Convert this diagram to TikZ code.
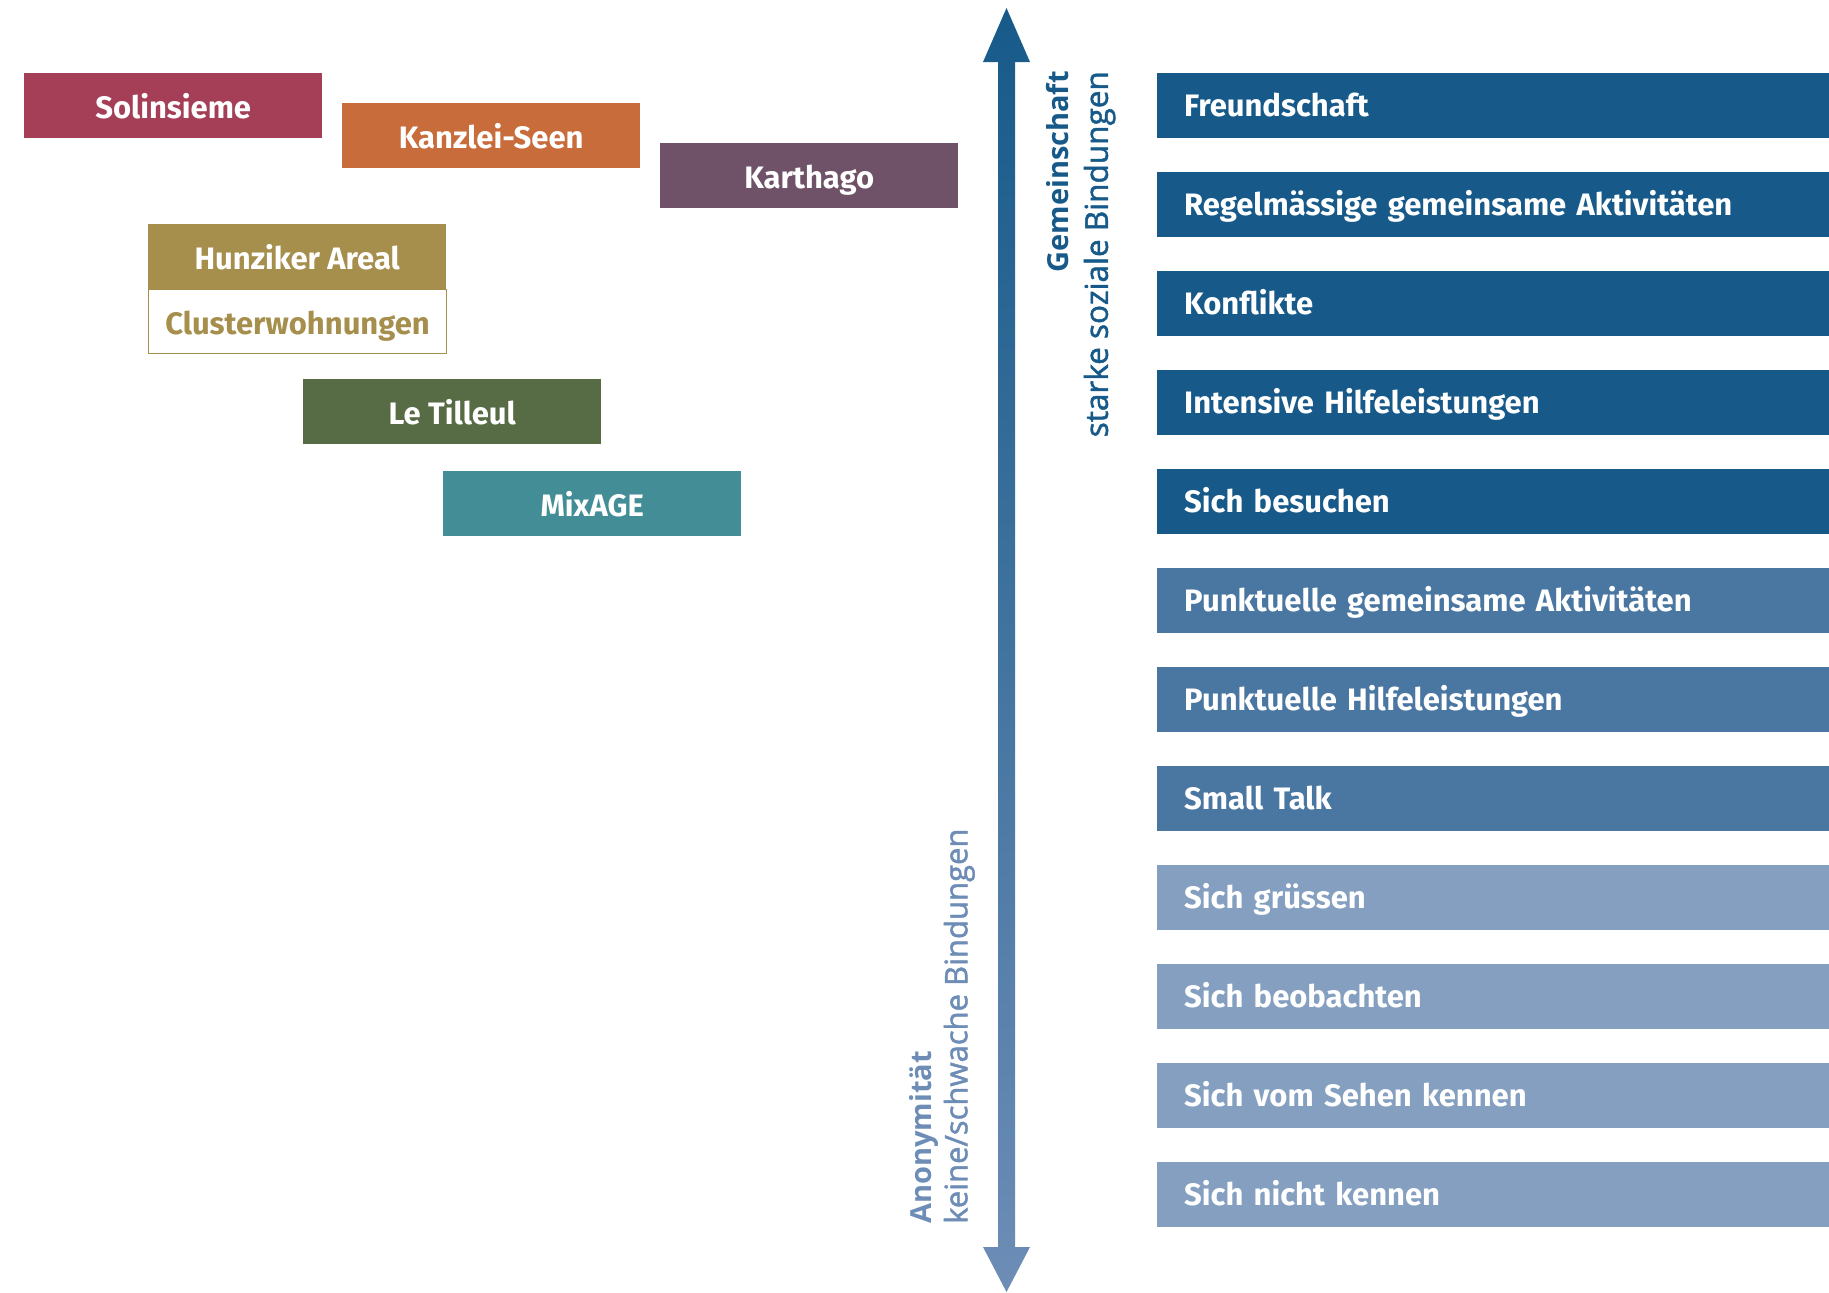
\documentclass[tikz,border=0pt]{standalone}
\usepackage{fontspec}
\setmainfont{Fira Sans}
\newfontfamily\axisfont{Open Sans}
\newfontfamily\axismed[FakeBold=1.5]{Open Sans}
\usetikzlibrary{calc}
\definecolor{barDark}{HTML}{175A89}
\definecolor{barMid}{HTML}{4A77A2}
\definecolor{barLight}{HTML}{849FBF}
\definecolor{axisTop}{HTML}{175A89}
\definecolor{axisBot}{HTML}{6D8DB6}
\definecolor{solinsieme}{HTML}{A43F57}
\definecolor{kanzlei}{HTML}{C76C3A}
\definecolor{karthago}{HTML}{6F5268}
\definecolor{hunziker}{HTML}{A68F4D}
\definecolor{tilleul}{HTML}{576B45}
\definecolor{mixage}{HTML}{438D97}
\tikzset{
  bar/.style={anchor=north west, minimum height=65pt, text width=618pt,
    inner xsep=27pt, inner ysep=0pt, align=left, text=white,
    text height=21pt, text depth=0pt,
    font=\fontsize{31}{36}\selectfont\bfseries},
  house/.style={anchor=north west, minimum width=298pt, minimum height=65pt,
    inner sep=0pt, text=white, text height=26pt, text depth=0pt,
    font=\fontsize{31}{36}\selectfont\bfseries},
  axislabel/.style={rotate=90, inner sep=0pt}
}
\begin{document}
\begin{tikzpicture}[x=1pt,y=-1pt]
\useasboundingbox (0,0) rectangle (1829,1293);
% projects
\node[house, fill=solinsieme] (sol) at (24,73) {Solinsieme};
\node[house, fill=kanzlei] (kan) at (342,103) {Kanzlei-Seen};
\node[house, fill=karthago] (kar) at (660,143) {Karthago};
\node[house, fill=hunziker] (hun) at (148,224) {Hunziker Areal};
\node[house, fill=white, draw=hunziker, line width=1pt, text=hunziker,
  minimum height=64pt, text height=25pt] (clu) at (148,289) {Clusterwohnungen};
\node[house, fill=tilleul] (til) at (303,379) {Le Tilleul};
\node[house, fill=mixage] (mix) at (443,471) {MixAGE};
% axis
\coordinate (up) at (1006.5,8);
\coordinate (down) at (1006.5,1292);
\shade[top color=axisTop, bottom color=axisBot]
  (up) -- ($(up)+(23.5,54)$) -- ($(up)+(8.5,54)$) -- ($(down)+(8.5,-45)$)
  -- ($(down)+(23.5,-45)$) -- (down) -- ($(down)+(-23.5,-45)$)
  -- ($(down)+(-8.5,-45)$) -- ($(up)+(-8.5,54)$) -- ($(up)+(-23.5,54)$) -- cycle;
\node[axislabel, anchor=east, align=right, text=axisTop,
  font=\axisfont\fontsize{29}{39}\selectfont] (strong) at (1081,71)
  {\bfseries Gemeinschaft\\
   \axismed\fontsize{31.5}{39}\selectfont starke soziale Bindungen};
\node[axislabel, anchor=west, align=left, text=axisBot,
  font=\axisfont\fontsize{29}{36}\selectfont] (weak) at (942,1224)
  {\bfseries Anonymität\\
   \axismed\fontsize{31}{36}\selectfont keine/schwache Bindungen};
% interactions
\node[bar, fill=barDark] (b1) at (1157,73) {Freundschaft};
\node[bar, fill=barDark] (b2) at (1157,172) {Regelmässige gemeinsame Aktivitäten};
\node[bar, fill=barDark] (b3) at (1157,271) {Konflikte};
\node[bar, fill=barDark] (b4) at (1157,370) {Intensive Hilfeleistungen};
\node[bar, fill=barDark] (b5) at (1157,469) {Sich besuchen};
\node[bar, fill=barMid] (b6) at (1157,568) {Punktuelle gemeinsame Aktivitäten};
\node[bar, fill=barMid] (b7) at (1157,667) {Punktuelle Hilfeleistungen};
\node[bar, fill=barMid] (b8) at (1157,766) {Small Talk};
\node[bar, fill=barLight] (b9) at (1157,865) {Sich grüssen};
\node[bar, fill=barLight] (b10) at (1157,964) {Sich beobachten};
\node[bar, fill=barLight] (b11) at (1157,1063) {Sich vom Sehen kennen};
\node[bar, fill=barLight] (b12) at (1157,1162) {Sich nicht kennen};
\end{tikzpicture}
\end{document}
